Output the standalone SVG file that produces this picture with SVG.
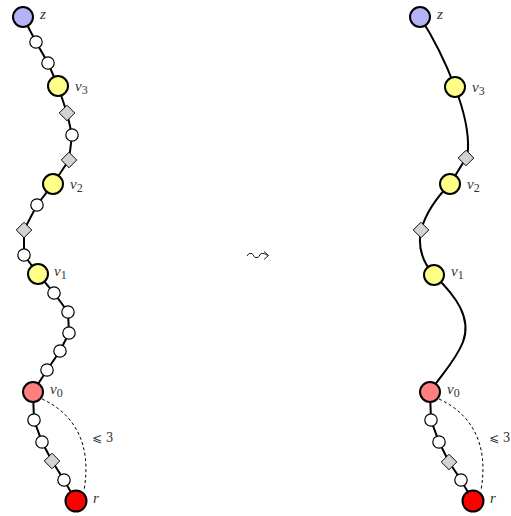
<svg xmlns="http://www.w3.org/2000/svg" width="511" height="516" viewBox="0 0 511 516">
<style>
.e{fill:none;stroke:#000;stroke-width:2}
.d{fill:none;stroke:#000;stroke-width:1;stroke-dasharray:3,2.5}
.big{stroke:#000;stroke-width:2}
.w{fill:#fff;stroke:#000;stroke-width:1.2}
.dm{fill:#d3d3d3;stroke:#000;stroke-width:0.9}
.z{fill:#b3b3f5}.y{fill:#ffff88}.p{fill:#ff8080}.r{fill:#ff0000}
.l{font-family:"Liberation Serif","DejaVu Serif",serif;font-style:italic;font-size:15px;fill:#333}
.s{font-family:"Liberation Serif","DejaVu Serif",serif;font-size:12px;fill:#333;font-style:normal}
.m{font-family:"DejaVu Serif","DejaVu Sans",serif;font-size:12px;fill:#333}
.ar{fill:none;stroke:#222;stroke-width:1}
</style>
<defs>
<rect id="dia" class="dm" x="-5.5" y="-5.5" width="11" height="11" transform="rotate(45)"/>
</defs>
<g id="connectors">
<polyline class="e" points="23,17 36,42 48,63 58,86 67,113 72,135 69,160 53,184 37,205 24,230 24,255 38,274 54,293 68,312 69,333 60,351 47,370 33,392 34,420 42,442 52,461 64,480 76,501"/>
<path class="d" d="M42,399 C75,414 92,445 84,490"/>
<path class="e" d="M420,17 Q440,48 455,87"/>
<path class="e" d="M455,87 C463,108 469,130 468,150 L466,158 L450,184"/>
<path class="e" d="M450,184 Q428,206 421,230 Q416,255 434,275"/>
<path class="e" d="M434,275 C456,296 472,318 463,342 C455,362 440,376 430,392"/>
<polyline class="e" points="430,392 431,420 439,442 449,462 461,480 473,501"/>
<path class="d" d="M439,399 C472,414 489,445 481,490"/>
</g>
<g id="left">
<g id="z1"><circle class="big z" cx="23" cy="17" r="10"/><text class="l" x="40" y="19" font-size="11">z</text></g>
<circle class="w" cx="36" cy="42" r="6.2"/>
<circle class="w" cx="48" cy="63" r="6.2"/>
<g id="v3a"><circle class="big y" cx="58" cy="86" r="10"/><text class="l" x="75" y="91">v<tspan class="s" dy="3">3</tspan></text></g>
<use href="#dia" x="67" y="113"/>
<circle class="w" cx="72" cy="135" r="6.2"/>
<use href="#dia" x="69" y="160"/>
<g id="v2a"><circle class="big y" cx="53" cy="184" r="10"/><text class="l" x="70" y="189">v<tspan class="s" dy="3">2</tspan></text></g>
<circle class="w" cx="37" cy="205" r="6.2"/>
<use href="#dia" x="24" y="230"/>
<circle class="w" cx="24" cy="255" r="6.2"/>
<g id="v1a"><circle class="big y" cx="38" cy="274" r="10"/><text class="l" x="54" y="276">v<tspan class="s" dy="3">1</tspan></text></g>
<circle class="w" cx="54" cy="293" r="6.2"/>
<circle class="w" cx="68" cy="312" r="6.2"/>
<circle class="w" cx="69" cy="333" r="6.2"/>
<circle class="w" cx="60" cy="351" r="6.2"/>
<circle class="w" cx="47" cy="370" r="6.2"/>
<g id="v0a"><circle class="big p" cx="33" cy="392" r="10"/><text class="l" x="50" y="394">v<tspan class="s" dy="3">0</tspan></text></g>
<circle class="w" cx="34" cy="420" r="6.2"/>
<circle class="w" cx="42" cy="442" r="6.2"/>
<use href="#dia" x="52" y="461"/>
<circle class="w" cx="64" cy="480" r="6.2"/>
<g id="ra"><circle class="big r" cx="76" cy="501" r="10.5"/><text class="l" x="93" y="503" font-size="12">r</text></g>
<text class="m" x="92" y="442">⩽ 3</text>
</g>
<g id="arrow">
<path class="ar" d="M247,256 L249,253.5 L252,253.5 L255,257.5 L258,257.5 L261,253.5 L264,253.5 L268,255.5"/>
<path class="ar" d="M264,251.5 L268.5,255.5 L264,259.5"/>
</g>
<g id="right">
<g id="z2"><circle class="big z" cx="420" cy="17" r="10"/><text class="l" x="437" y="19" font-size="11">z</text></g>
<g id="v3b"><circle class="big y" cx="455" cy="87" r="10"/><text class="l" x="472" y="92">v<tspan class="s" dy="3">3</tspan></text></g>
<use href="#dia" x="466" y="158"/>
<g id="v2b"><circle class="big y" cx="450" cy="184" r="10"/><text class="l" x="467" y="189">v<tspan class="s" dy="3">2</tspan></text></g>
<use href="#dia" x="421" y="230"/>
<g id="v1b"><circle class="big y" cx="434" cy="275" r="10"/><text class="l" x="451" y="276">v<tspan class="s" dy="3">1</tspan></text></g>
<g id="v0b"><circle class="big p" cx="430" cy="392" r="10"/><text class="l" x="447" y="394">v<tspan class="s" dy="3">0</tspan></text></g>
<circle class="w" cx="431" cy="420" r="6.2"/>
<circle class="w" cx="439" cy="442" r="6.2"/>
<use href="#dia" x="449" y="462"/>
<circle class="w" cx="461" cy="480" r="6.2"/>
<g id="rb"><circle class="big r" cx="473" cy="501" r="10.5"/><text class="l" x="490" y="503" font-size="12">r</text></g>
<text class="m" x="489" y="442">⩽ 3</text>
</g>
</svg>
